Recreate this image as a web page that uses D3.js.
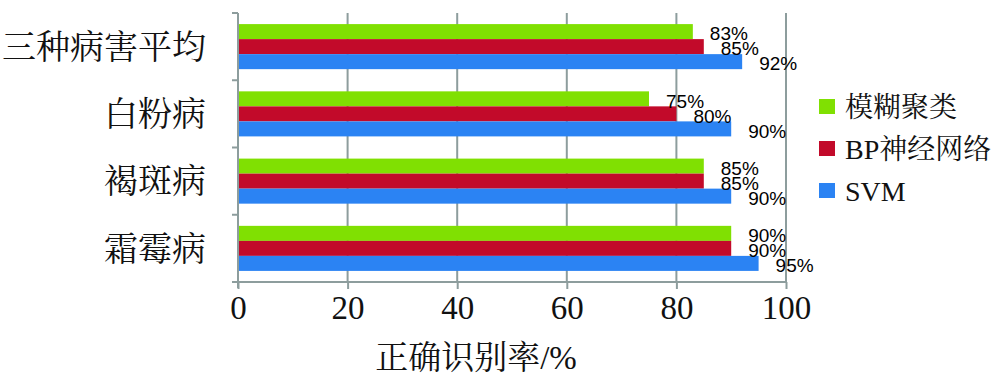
<!DOCTYPE html>
<html>
<head>
<meta charset="utf-8">
<script src="https://cdn.jsdelivr.net/npm/d3@7/dist/d3.min.js"></script>
<style>
  html, body { margin: 0; padding: 0; background: #fff; }
  svg { display: block; }
</style>
</head>
<body>
<svg id="chart" width="1000" height="378"></svg>
<script>
// categories top -> bottom
var categories = ['三种病害平均', '白粉病', '褐斑病', '霜霉病'];
var seriesNames = ['模糊聚类', 'BP神经网络', 'SVM'];
var fuzzy = [83, 75, 85, 90];
var bpnn = [85, 80, 85, 90];
var svm = [92, 90, 90, 95];
var xTicks = [0, 20, 40, 60, 80, 100];
var colors = ['#80e002', '#c20a2a', '#2b83f3'];

var series = [fuzzy, bpnn, svm];
var serif = '"Times New Roman", "Liberation Serif", "Noto Serif CJK SC", "Noto Sans CJK SC", serif';
var gridColor = '#8d9d9d';

var svg = d3.select('#chart');
var plotLeft = 238, plotRight = 786, plotTop = 13, plotBottom = 282;

var x = d3.scaleLinear().domain([0, 100]).range([plotLeft, plotRight]);
var y = d3.scaleBand().domain(categories).range([plotTop, plotBottom]).paddingInner(0.33).paddingOuter(0.165);
var ySub = d3.scaleBand().domain(d3.range(seriesNames.length)).range([0, y.bandwidth()]);

// gridlines
svg.append('g').selectAll('line').data(xTicks.slice(1)).enter().append('line')
  .attr('x1', function(d){ return x(d); }).attr('x2', function(d){ return x(d); })
  .attr('y1', plotTop).attr('y2', plotBottom)
  .attr('stroke', gridColor).attr('stroke-width', 2);

// bars
var groups = svg.append('g').selectAll('g').data(categories).enter().append('g')
  .attr('transform', function(d){ return 'translate(0,' + y(d) + ')'; });

groups.each(function(cat, ci){
  var g = d3.select(this);
  series.forEach(function(vals, si){
    g.append('rect')
      .attr('x', x(0)).attr('y', ySub(si))
      .attr('width', x(vals[ci]) - x(0)).attr('height', ySub.bandwidth())
      .attr('fill', colors[si]);
  });
  series.forEach(function(vals, si){
    g.append('text')
      .attr('x', x(vals[ci]) + 17)
      .attr('y', ySub(si) + ySub.bandwidth() / 2 + 2)
      .attr('dy', '0.35em')
      .style('font', '19px "Liberation Sans", Arial, sans-serif')
      .attr('fill', '#000')
      .text(vals[ci] + '%');
  });
});

// y axis (category boundaries as ticks)
var yAxis = svg.append('g');
yAxis.append('line').attr('x1', plotLeft).attr('x2', plotLeft).attr('y1', plotTop).attr('y2', plotBottom + 6)
  .attr('stroke', gridColor).attr('stroke-width', 2);
var bounds = d3.range(categories.length + 1).map(function(i){ return plotTop + i * (plotBottom - plotTop) / categories.length; });
yAxis.selectAll('line.tk').data(bounds).enter().append('line').attr('class', 'tk')
  .attr('x1', plotLeft - 6).attr('x2', plotLeft).attr('y1', function(d){ return d; }).attr('y2', function(d){ return d; })
  .attr('stroke', gridColor).attr('stroke-width', 2);
yAxis.selectAll('text').data(categories).enter().append('text')
  .attr('x', 206).attr('y', function(d){ return y(d) + y.bandwidth() / 2; })
  .attr('dy', '0.36em').attr('text-anchor', 'end')
  .style('font', '34px ' + serif).attr('fill', '#111')
  .text(function(d){ return d; });

// x axis
var xAxis = svg.append('g').attr('transform', 'translate(0,' + plotBottom + ')')
  .call(d3.axisBottom(x).tickValues(xTicks).tickSize(7).tickFormat(d3.format('d')));
xAxis.select('.domain').attr('stroke', gridColor).attr('stroke-width', 2).attr('d', 'M' + (plotLeft - 6) + ',0H' + plotRight);
xAxis.selectAll('.tick line').attr('stroke', gridColor).attr('stroke-width', 2);
xAxis.selectAll('.tick text').attr('y', 14).attr('dy', '0.71em')
  .style('font', '33px ' + serif).attr('fill', '#111');

svg.append('text').attr('x', 476).attr('y', 357).attr('dy', '0.36em').attr('text-anchor', 'middle')
  .style('font', '33px ' + serif).attr('fill', '#111').text('正确识别率/%');

// legend
var legend = svg.append('g').attr('transform', 'translate(819,99)');
var li = legend.selectAll('g').data(seriesNames).enter().append('g')
  .attr('transform', function(d, i){ return 'translate(0,' + (i * 42) + ')'; });
li.append('rect').attr('width', 16).attr('height', 15).attr('fill', function(d, i){ return colors[i]; });
li.append('text').attr('x', 26).attr('y', 8).attr('dy', '0.36em')
  .style('font', '28px ' + serif).attr('fill', '#111').text(function(d){ return d; });
</script>
</body>
</html>
